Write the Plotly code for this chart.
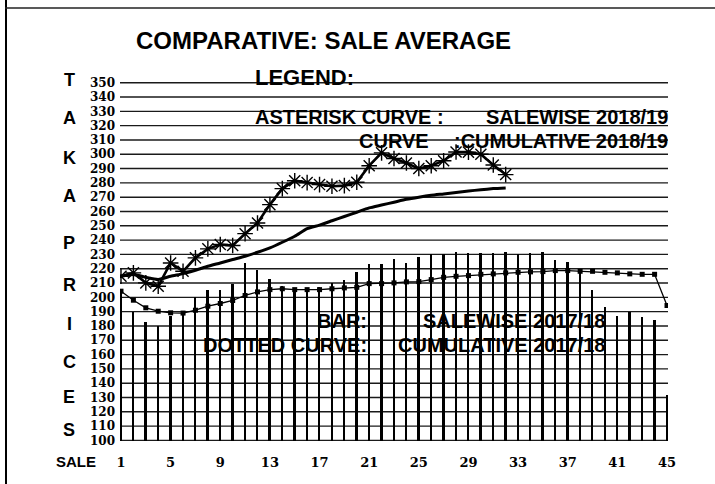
import plotly.graph_objects as go

# ---------------- data ----------------
sales = list(range(1, 46))
bar_salewise_1718 = [204, 190, 183, 180, 187, 190, 200, 205, 205, 209,
                     224, 219, 213, 208, 206, 205, 207, 210, 212, 218,
                     223, 223, 227, 224, 228, 230, 230, 232, 231, 231,
                     231, 232, 230, 231, 232, 226, 225, 219, 205, 193,
                     187, 190, 186, 184, 132]
dotted_cum_1718 = [204.3, 198, 192.7, 190.3, 189.2, 189, 191, 193.8, 195.7, 197.8,
                   201.3, 203.8, 205.4, 206, 205.4, 205.4, 205.4, 206, 206.6, 207,
                   209.6, 209.6, 210.1, 210.8, 211, 212.4, 214, 214.7, 215.2, 216.1,
                   216.4, 217.1, 217.5, 217.8, 218, 218.7, 218.7, 218.2, 218.2, 217.5,
                   217.1, 216.4, 216.1, 216.1, 194.3]
sales_1819 = list(range(1, 33))
asterisk_salewise_1819 = [214.7, 217.1, 210.1, 207.8, 224, 218.2, 227.6, 233.9, 236.9, 236.2,
                          244.5, 252, 264.8, 276, 281.5, 280.2, 278.8, 277.6, 278.1, 280.4,
                          292, 301, 297, 293.9, 290, 292, 295.5, 301.6, 301.5, 300,
                          292.5, 285.8]
curve_cum_1819 = [214.7, 216, 214, 212.5, 214.7, 216.6, 218.9, 221.7, 224, 226.4,
                  228.7, 231.5, 234.6, 238.5, 242.7, 248, 250.5, 253.5, 256.5, 259.5,
                  262.5, 264.5, 266.5, 268.5, 270, 271.3, 272.3, 273.3, 274.3, 275.2,
                  276, 276.5]
x_tick_vals = [1, 5, 9, 13, 17, 21, 25, 29, 33, 37, 41, 45]
y_tick_vals = list(range(100, 351, 10))
y_title_letters = ["T", "A", "K", "A", "P", "R", "I", "C", "E", "S"]

# ---------------- layout geometry (pixels) ----------------
W, H = 715, 484
L, R, T, B = 120, 668, 82, 441


def xp(px):
    return (px - L) / (R - L)


def yp(py):
    return (B - py) / (B - T)


SANS = "Liberation Sans, Arial, sans-serif"
SERIF = "DejaVu Serif, serif"

fig = go.Figure()

fig.add_trace(go.Bar(
    x=sales, y=bar_salewise_1718, width=0.15,
    marker=dict(color="black", line=dict(width=0)),
    name="BAR: SALEWISE 2017/18",
))
fig.add_trace(go.Scatter(
    x=sales, y=dotted_cum_1718, mode="lines+markers",
    line=dict(color="black", width=1.3),
    marker=dict(symbol="square", size=5, color="black"),
    name="DOTTED CURVE: CUMULATIVE 2017/18",
))
fig.add_trace(go.Scatter(
    x=sales_1819, y=curve_cum_1819, mode="lines",
    line=dict(color="black", width=3, shape="spline", smoothing=0.6),
    name="CURVE: CUMULATIVE 2018/19",
))
fig.add_trace(go.Scatter(
    x=sales_1819, y=asterisk_salewise_1819, mode="lines+markers",
    line=dict(color="black", width=2.6),
    marker=dict(symbol="asterisk-open", size=13, color="black",
                line=dict(width=1.4, color="black")),
    name="ASTERISK CURVE: SALEWISE 2018/19",
))

ann = []


def add_text(text, px, py, size, xanchor="left", font=SANS):
    ann.append(dict(
        text=text, x=xp(px), y=yp(py), xref="paper", yref="paper",
        xanchor=xanchor, yanchor="middle", showarrow=False,
        font=dict(family=font, size=size, color="black", weight="bold"),
        borderpad=0,
    ))


add_text("COMPARATIVE: SALE AVERAGE", 323, 41, 24, "center")
add_text("LEGEND:", 254, 77, 22, "left")
add_text("ASTERISK CURVE :", 254, 117, 20, "left")
add_text("SALEWISE 2018/19", 669, 117, 20, "right")
add_text("CURVE", 358, 141, 20, "left")
add_text(":CUMULATIVE 2018/19", 669, 141, 20, "right")
add_text("BAR:", 368, 321, 20, "right")
add_text("SALEWISE 2017/18", 606, 321, 20, "right")
add_text("DOTTED CURVE:", 368, 345, 20, "right")
add_text("CUMULATIVE 2017/18", 606, 345, 20, "right")
add_text("SALE", 76, 461, 15, "center")

letter_y = [80, 118, 158, 196, 243, 285, 324, 362, 397, 430]
for letter, ly in zip(y_title_letters, letter_y):
    add_text(letter, 69, ly, 18, "center")

shapes = [
    dict(type="line", xref="paper", yref="paper",
         x0=xp(6), x1=xp(6), y0=yp(0), y1=yp(484),
         line=dict(color="black", width=2)),
    dict(type="line", xref="paper", yref="paper",
         x0=xp(5), x1=xp(715), y0=yp(8), y1=yp(8),
         line=dict(color="#222", width=1.5)),
]
# horizontal ruling at every y tick, across the plot width
for v in y_tick_vals:
    shapes.append(dict(type="line", xref="paper", yref="y", layer="below",
                       x0=0, x1=1, y0=v, y1=v,
                       line=dict(color="#1a1a1a", width=1.4)))

fig.update_layout(
    width=W, height=H,
    margin=dict(l=L, r=W - R, t=T, b=H - B, pad=0),
    paper_bgcolor="white", plot_bgcolor="white",
    showlegend=False,
    bargap=0,
    annotations=ann,
    shapes=shapes,
    xaxis=dict(
        range=[1 - 0.08, 45 + 0.08],
        tickmode="array", tickvals=x_tick_vals,
        ticktext=[str(v) for v in x_tick_vals],
        showgrid=False, zeroline=False, showline=False,
        ticks="", ticklabelstandoff=12,
        tickfont=dict(family=SERIF, size=13, color="black", weight="bold"),
    ),
    yaxis=dict(
        range=[99.6, 350.5],
        tickmode="array", tickvals=y_tick_vals,
        ticktext=[str(v) for v in y_tick_vals],
        showgrid=False, zeroline=False, showline=False,
        ticks="", ticklabelstandoff=4,
        tickfont=dict(family=SERIF, size=12, color="black", weight="bold"),
    ),
)

fig.write_html(
    "out.html",
    config={"displayModeBar": False},
    post_script="document.body.style.margin='0';document.body.style.overflow='hidden';",
)
